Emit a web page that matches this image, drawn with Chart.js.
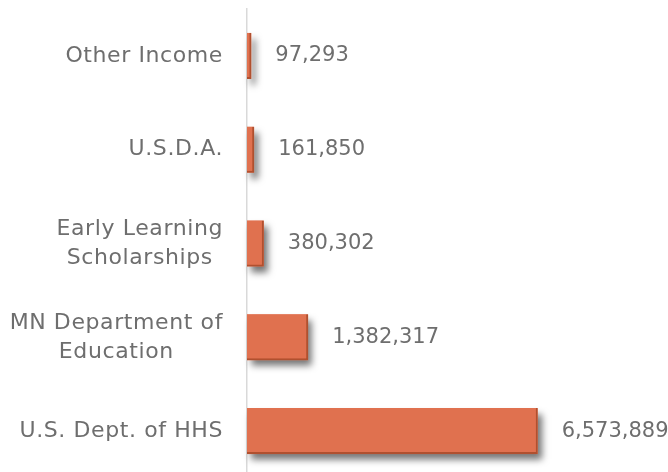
<!DOCTYPE html>
<html>
<head>
<meta charset="utf-8">
<script src="https://cdn.jsdelivr.net/npm/chart.js@4/dist/chart.umd.min.js"></script>
<style>
  html, body { margin: 0; padding: 0; background: #fff; overflow: hidden; }
  #wrap { width: 668px; height: 480px; }
</style>
</head>
<body>
<div id="wrap"><canvas id="fundingChart" width="668" height="480"></canvas></div>
<script>
// Revenue sources, top to bottom
const categories = [
    ['Other Income'],
    ['U.S.D.A.'],
    ['Early Learning', 'Scholarships'],
    ['MN Department of', 'Education'],
    ['U.S. Dept. of HHS']
];
const amounts = [97293, 161850, 380302, 1382317, 6573889];

const textColor = '#6e6e6e';

// soft drop shadow under the bars (bar draw clips its own shadow, so paint it first)
const barShadow = {
    id: 'barShadow',
    beforeDatasetsDraw(chart) {
        const ctx = chart.ctx;
        ctx.save();
        ctx.shadowColor = 'rgba(0,0,0,0.55)';
        ctx.shadowOffsetX = 4;
        ctx.shadowOffsetY = 6;
        ctx.shadowBlur = 7;
        ctx.fillStyle = '#E0714F';
        chart.getDatasetMeta(0).data.forEach(bar => {
            const p = bar.getProps(['x', 'y', 'base', 'height'], true);
            ctx.fillRect(p.base, p.y - p.height / 2, p.x - p.base, p.height);
        });
        ctx.restore();
    }
};

// value labels past the end of each bar + category labels
const textLabels = {
    id: 'textLabels',
    afterDraw(chart) {
        const ctx = chart.ctx;
        const meta = chart.getDatasetMeta(0);
        const yScale = chart.scales.y;
        ctx.save();
        ctx.fillStyle = textColor;
        ctx.textBaseline = 'middle';

        ctx.font = '21px "DejaVu Sans"';
        meta.data.forEach((bar, i) => {
            ctx.textAlign = 'left';
            ctx.fillText(amounts[i].toLocaleString('en-US'), bar.x + 24, bar.y);
        });

        ctx.font = '22px "DejaVu Sans"';
        ctx.letterSpacing = '0.6px';
        const lineH = 29;
        categories.forEach((lines, i) => {
            const y = yScale.getPixelForTick(i);
            let widest = 0;
            lines.forEach(l => { widest = Math.max(widest, ctx.measureText(l).width); });
            const right = chart.chartArea.left - 24;
            const cx = right - widest / 2;
            ctx.textAlign = 'center';
            lines.forEach((l, k) => {
                ctx.fillText(l, cx, y + (k - (lines.length - 1) / 2) * lineH);
            });
        });
        ctx.restore();
    }
};

const ctx = document.getElementById('fundingChart').getContext('2d');
const fundingChart = new Chart(ctx, {
    type: 'bar',
    data: {
        labels: categories,
        datasets: [{
            data: amounts,
            backgroundColor: '#E0714F',
            borderColor: '#B0502F',
            borderWidth: {top: 0, right: 2, bottom: 2, left: 0},
            borderSkipped: false,
            categoryPercentage: 1,
            barPercentage: 0.49
        }]
    },
    options: {
        indexAxis: 'y',
        responsive: false,
        animation: false,
        layout: {padding: {top: 9, right: 23, bottom: 2, left: 0}},
        plugins: {
            legend: {display: false},
            tooltip: {enabled: false}
        },
        scales: {
            x: {
                display: false,
                min: 0,
                max: 9000000
            },
            y: {
                grid: {display: false},
                border: {display: true, color: '#d9d9d9', width: 1.5},
                ticks: {display: false},
                afterFit(scale) { scale.width = 247; }
            }
        }
    },
    plugins: [barShadow, textLabels]
});
</script>
</body>
</html>
